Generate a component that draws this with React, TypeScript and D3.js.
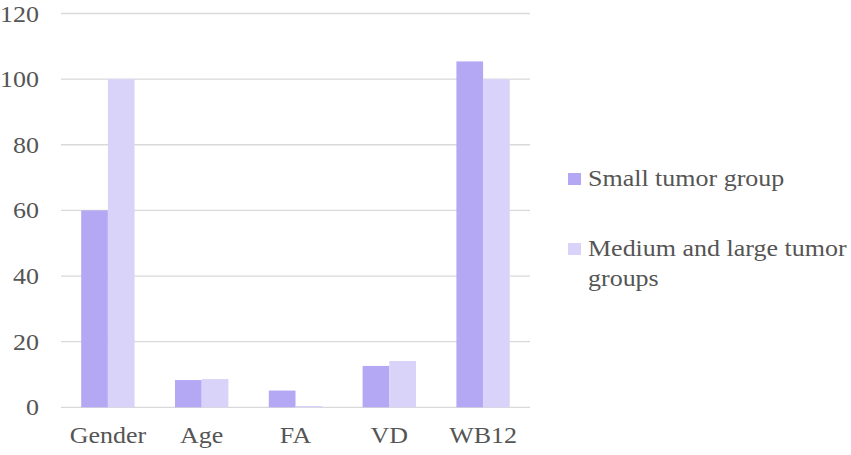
import { scaleBand, scaleLinear } from 'd3'

const categories = ['Gender', 'Age', 'FA', 'VD', 'WB12'];
const smallGroup = [60, 8.3, 5.1, 12.6, 105.4];
const mediumGroup = [100, 8.6, 0.4, 14.1, 100];
const seriesNames = ['Small tumor group', 'Medium and large tumor groups'];
const yTicks = [0, 20, 40, 60, 80, 100, 120];

// the source picture is stretched sideways a little, so text gets a scaleX
const stretch = 1.13;

function Label(props: { x: number; y: number; anchor?: string; children: any }) {
  const { x, y, anchor, children } = props;
  return (
    <text
      transform={`translate(${x},${y}) scale(${stretch},1)`}
      textAnchor={anchor || 'start'}
      style={{ fontFamily: "'Liberation Serif', 'DejaVu Serif'", fontSize: 23, fill: '#555555' }}
    >
      {children}
    </text>
  );
}

function App() {
  const width = 851;
  const height = 455;
  const left = 61;
  const right = 530;
  const top = 13.5;
  const bottom = 407.3;

  const colors = ['#b4a8f5', '#d9d3fa'];

  const x = scaleBand().domain(categories).range([left, right]).paddingInner(0).paddingOuter(0);
  const inner = scaleBand().domain(['0', '1']).range([0, x.bandwidth()]).paddingOuter(0.757);
  const y = scaleLinear().domain([0, 120]).range([bottom, top]);

  const series = [smallGroup, mediumGroup];

  return (
    <svg width={width} height={height} style={{ position: 'absolute', left: 0, top: 0 }}>
      <rect width={width} height={height} fill="white" />
      {yTicks.map(t => (
        <g key={t}>
          <line x1={left} x2={right} y1={y(t)} y2={y(t)} stroke="#d9d9d9" strokeWidth={1.3} />
          <Label x={39} y={y(t) + 8} anchor="end">{t}</Label>
        </g>
      ))}
      {series.map((vals, si) =>
        vals.map((v, i) => (
          <rect
            key={`${si}-${i}`}
            x={(x(categories[i]) as number) + (inner(String(si)) as number)}
            y={y(v)}
            width={inner.bandwidth()}
            height={bottom - y(v)}
            fill={colors[si]}
          />
        ))
      )}
      {categories.map(c => (
        <Label key={c} x={(x(c) as number) + x.bandwidth() / 2} y={443} anchor="middle">{c}</Label>
      ))}
      <rect x={568} y={173} width={13} height={12} fill={colors[0]} />
      <Label x={588} y={186}>{seriesNames[0]}</Label>
      <rect x={568} y={243} width={13} height={12} fill={colors[1]} />
      <Label x={588} y={255.5}>Medium and large tumor</Label>
      <Label x={588} y={286}>groups</Label>
    </svg>
  );
}

export default App;
